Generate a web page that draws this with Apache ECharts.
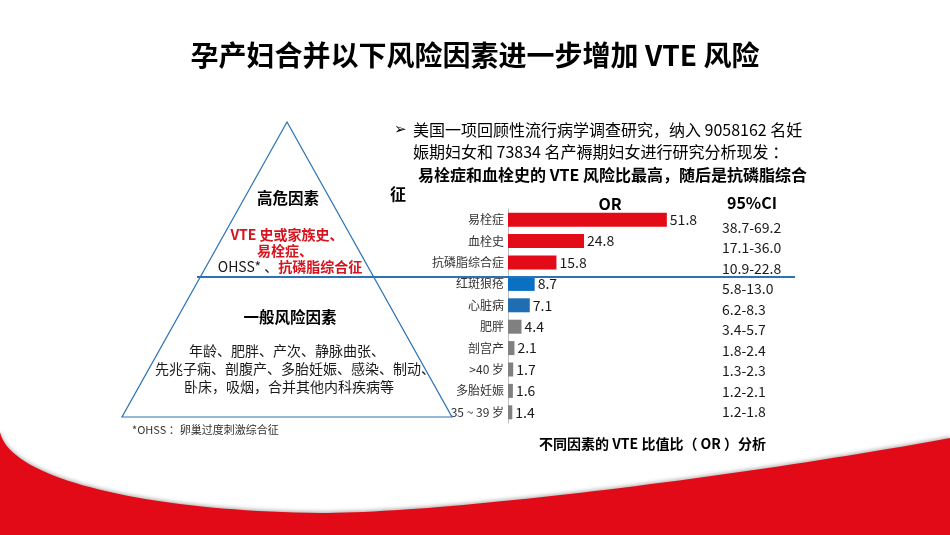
<!DOCTYPE html>
<html>
<head>
<meta charset="utf-8">
<script src="https://cdn.jsdelivr.net/npm/echarts@6/dist/echarts.min.js"></script>
<style>
html,body{margin:0;padding:0;background:#fff;}
#chart{width:950px;height:535px;}
</style>
</head>
<body>
<div id="chart"></div>
<script>
// ---- data ----
const categories = ['易栓症', '血栓史', '抗磷脂综合症', '红斑狼疮', '心脏病', '肥胖', '剖宫产', '>40 岁', '多胎妊娠', '35 ~ 39 岁'];
const orValues = [51.8, 24.8, 15.8, 8.7, 7.1, 4.4, 2.1, 1.7, 1.6, 1.4];
const ciLabels = ['38.7-69.2', '17.1-36.0', '10.9-22.8', '5.8-13.0', '6.2-8.3', '3.4-5.7', '1.8-2.4', '1.3-2.3', '1.2-2.1', '1.2-1.8'];
const riskGroups = ['high', 'high', 'high', 'mid', 'mid2', 'general', 'general', 'general', 'general', 'general'];

// ---- styles ----
const FONT = '"Noto Sans CJK SC", "Microsoft YaHei", sans-serif';
const groupColor = { high: '#e30b17', mid: '#0a70c2', mid2: '#1f6db3', general: '#808080' };
const RED = '#e20a16';
const BLUE = '#2b72b8';

const chart = echarts.init(document.getElementById('chart'), null, { renderer: 'canvas' });

function txt(text, x, y, opts) {
  opts = opts || {};
  return {
    type: 'text', silent: true, z: 10,
    style: {
      text: text, x: x, y: y,
      fill: opts.fill || '#000',
      font: (opts.weight || 'normal') + ' ' + (opts.size || 14) + 'px ' + (opts.family || FONT),
      align: opts.align || 'left', verticalAlign: 'middle',
      rich: opts.rich
    }
  };
}

// decorative swoosh outline from two cubic curves
function cubic(p0, p1, p2, p3, n) {
  const pts = [];
  for (let i = 0; i <= n; i++) {
    const t = i / n, u = 1 - t;
    pts.push([
      u*u*u*p0[0] + 3*u*u*t*p1[0] + 3*u*t*t*p2[0] + t*t*t*p3[0],
      u*u*u*p0[1] + 3*u*u*t*p1[1] + 3*u*t*t*p2[1] + t*t*t*p3[1]
    ]);
  }
  return pts;
}
const swooshPts = cubic([0, 432], [10, 480], [150, 511], [320, 513], 40)
  .concat(cubic([320, 513], [450, 513], [750, 475], [950, 438], 50).slice(1))
  .concat([[950, 535], [0, 535]]);

const graphics = [
  {
    type: 'polygon', silent: true, z: 1,
    shape: { points: swooshPts },
    style: { fill: RED, shadowBlur: 4, shadowColor: 'rgba(0,0,0,0.35)', shadowOffsetY: -1 }
  },
  {
    type: 'polygon', silent: true, z: 2,
    shape: { points: [[287, 122], [122, 417], [452, 417]] },
    style: { fill: 'none', stroke: BLUE, lineWidth: 1.2 }
  },
  {
    type: 'line', silent: true, z: 3,
    shape: { x1: 197, y1: 277, x2: 795, y2: 277 },
    style: { stroke: BLUE, lineWidth: 2 }
  },
  txt('孕产妇合并以下风险因素进一步增加 VTE 风险', 475, 55, { size: 28, weight: 'bold', align: 'center' }),
  txt('➢', 394, 130, { size: 15, family: '"DejaVu Sans", sans-serif' }),
  txt('美国一项回顾性流行病学调查研究，纳入 9058162 名妊', 413, 130, { size: 16 }),
  txt('娠期妇女和 73834 名产褥期妇女进行研究分析现发 ：', 413, 152, { size: 16 }),
  txt('易栓症和血栓史的 VTE 风险比最高，随后是抗磷脂综合', 418, 175, { size: 16, weight: 'bold' }),
  txt('征', 390, 194, { size: 16, weight: 'bold' }),
  txt('OR', 610, 204, { size: 16, weight: 'bold', align: 'center' }),
  txt('95%CI', 752, 203, { size: 16, weight: 'bold', align: 'center' }),
  txt('高危因素', 288, 198, { size: 15.5, weight: 'bold', align: 'center' }),
  txt('VTE 史或家族史、', 287, 235, { size: 14, weight: 'bold', align: 'center', fill: '#d7131e' }),
  txt('易栓症、', 285, 251, { size: 14, weight: 'bold', align: 'center', fill: '#d7131e' }),
  txt('{a|OHSS* 、}{b|抗磷脂综合征}', 290, 267, {
    size: 14, align: 'center',
    rich: {
      a: { fill: '#1a1a1a', font: 'normal 14px ' + FONT },
      b: { fill: '#d7131e', font: 'bold 14px ' + FONT }
    }
  }),
  txt('一般风险因素', 290, 317, { size: 15.5, weight: 'bold', align: 'center' }),
  txt('年龄、肥胖、产次、静脉曲张、', 287, 351, { size: 14, align: 'center', fill: '#1a1a1a' }),
  txt('先兆子痫、剖腹产、多胎妊娠、感染、制动、', 295, 369, { size: 14, align: 'center', fill: '#1a1a1a' }),
  txt('卧床，吸烟，合并其他内科疾病等', 289, 387, { size: 14, align: 'center', fill: '#1a1a1a' }),
  txt('*OHSS ：卵巢过度刺激综合征', 132, 430, { size: 11, fill: '#333' }),
  txt('不同因素的 VTE 比值比（ OR ）分析', 539, 444, { size: 14, weight: 'bold' })
];

const option = {
  backgroundColor: '#fff',
  animation: false,
  grid: [
    { left: 508, top: 209, width: 184, height: 214, containLabel: false },
    { left: 600, top: 217, width: 116, height: 205, containLabel: false }
  ],
  xAxis: [
    { type: 'value', gridIndex: 0, min: 0, max: 60, show: false },
    { type: 'value', gridIndex: 1, min: 0, max: 1, show: false }
  ],
  yAxis: [
    {
      type: 'category', gridIndex: 0, data: categories, inverse: true,
      axisLine: { show: true, lineStyle: { color: '#bfbfbf', width: 1 } },
      axisTick: { show: false },
      axisLabel: { fontSize: 12, color: '#333', margin: 4, fontFamily: FONT }
    },
    {
      type: 'category', gridIndex: 1, data: ciLabels, inverse: true, position: 'right',
      axisLine: { show: false }, axisTick: { show: false },
      axisLabel: { fontSize: 14, color: '#1a1a1a', margin: 6, align: 'left', fontFamily: FONT }
    }
  ],
  series: [
    {
      type: 'bar', xAxisIndex: 0, yAxisIndex: 0,
      barWidth: 14,
      data: orValues.map((v, i) => ({ value: v, itemStyle: { color: groupColor[riskGroups[i]] } })),
      label: { show: true, position: 'right', distance: 3, fontSize: 14, color: '#1a1a1a', fontFamily: FONT }
    }
  ],
  graphic: graphics
};
chart.setOption(option);
</script>
</body>
</html>
